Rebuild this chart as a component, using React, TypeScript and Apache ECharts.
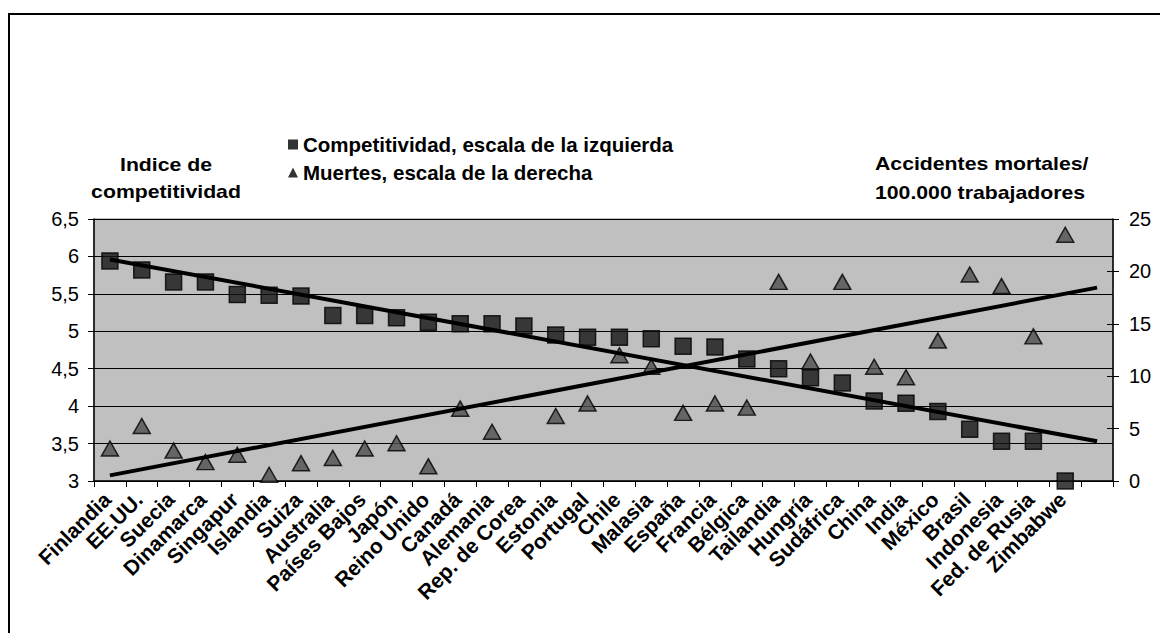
import React, { useEffect, useRef } from "react";
import * as echarts from "echarts";

const categories = [
  "Finlandia", "EE.UU.", "Suecia", "Dinamarca", "Singapur", "Islandia", "Suiza",
  "Australia", "Países Bajos", "Japón", "Reino Unido", "Canadá", "Alemania",
  "Rep. de Corea", "Estonia", "Portugal", "Chile", "Malasia", "España", "Francia",
  "Bélgica", "Tailandia", "Hungría", "Sudáfrica", "China", "India", "México",
  "Brasil", "Indonesia", "Fed. de Rusia", "Zimbabwe",
];

const competitividad = [
  5.94, 5.82, 5.66, 5.66, 5.49, 5.48, 5.47, 5.21, 5.21, 5.18, 5.12, 5.1, 5.1,
  5.07, 4.95, 4.92, 4.92, 4.9, 4.8, 4.79, 4.63, 4.5, 4.38, 4.31, 4.07, 4.04,
  3.93, 3.69, 3.53, 3.53, 3.0,
];

const muertes: (number | null)[] = [
  3.1, 5.25, 2.9, 1.8, 2.5, 0.6, 1.7, 2.2, 3.1, 3.6, 1.4, 6.9, 4.7, null, 6.2,
  7.4, 12.0, 10.9, 6.5, 7.4, 7.0, 19.0, 11.4, 19.0, 10.9, 9.9, 13.4, 19.7, 18.6,
  13.8, 23.5,
];

// trendline end values (first country, one slot past the last)
const trendComp = [5.96, 3.53];
const trendMuertes = [0.54, 18.45];

const leftTicks = { min: 3, max: 6.5, interval: 0.5 };
const rightTicks = { min: 0, max: 25, interval: 5 };

const nameComp = "Competitividad, escala de la izquierda";
const nameMuertes = "Muertes, escala de la derecha";

const FONT = "'Liberation Sans', Arial, sans-serif";

export default function App() {
  const ref = useRef<HTMLDivElement>(null);

  useEffect(() => {
    if (!ref.current) return;
    const chart = echarts.init(ref.current, undefined, { renderer: "svg" });
    const axisCats = [...categories, ""];
    const slots = axisCats.length;
    const toSeries = (arr: (number | null)[]) =>
      axisCats.map((_, i) => (i < arr.length && arr[i] !== null ? arr[i] : "-"));
    const trendSeries = (ends: number[]) =>
      axisCats.map((_, i) => (i === 0 ? ends[0] : i === slots - 1 ? ends[1] : "-"));

    chart.setOption({
      animation: false,
      backgroundColor: "#ffffff",
      textStyle: { fontFamily: FONT },
      grid: {
        left: 86,
        right: 55,
        top: 211,
        bottom: 152,
        show: true,
        backgroundColor: "#c0c0c0",
        borderColor: "#808080",
        borderWidth: 1,
      },
      legend: {
        orient: "vertical",
        left: 275,
        top: 121,
        itemGap: 7,
        itemWidth: 10,
        itemHeight: 10,
        selectedMode: false,
        textStyle: { fontSize: 20.5, fontWeight: "bold", color: "#000", fontFamily: FONT },
        data: [
          { name: nameComp, icon: "rect", itemStyle: { color: "#000", borderWidth: 0 } },
          { name: nameMuertes, icon: "triangle", itemStyle: { color: "#000", borderWidth: 0 } },
        ],
      },
      graphic: [
        {
          type: "rect",
          silent: true,
          shape: { x: 1, y: 6, width: 1200, height: 700 },
          style: { fill: "none", stroke: "#000", lineWidth: 2 },
          z: -10,
        },
        {
          type: "text",
          x: 158,
          y: 170,
          scaleX: 1.18,
          style: {
            text: "Indice de\ncompetitividad",
            font: `bold 18px ${FONT}`,
            fill: "#000",
            align: "center",
            verticalAlign: "middle",
            lineHeight: 27,
          },
        },
        {
          type: "text",
          x: 867,
          y: 170,
          scaleX: 1.18,
          style: {
            text: "Accidentes mortales/\n100.000 trabajadores",
            font: `bold 18px ${FONT}`,
            fill: "#000",
            align: "left",
            verticalAlign: "middle",
            lineHeight: 29,
          },
        },
      ],
      xAxis: {
        type: "category",
        data: axisCats,
        boundaryGap: true,
        axisLine: { lineStyle: { color: "#000", width: 1.5 } },
        axisTick: { show: true, interval: 0, length: 6, lineStyle: { color: "#000" } },
        axisLabel: {
          interval: 0,
          rotate: 45,
          margin: 12,
          padding: [0, 4, 0, 0],
          color: "#000",
          fontSize: 21,
          fontWeight: "bold",
          fontFamily: FONT,
        },
        splitLine: { show: false },
      },
      yAxis: [
        {
          type: "value",
          min: leftTicks.min,
          max: leftTicks.max,
          interval: leftTicks.interval,
          position: "left",
          axisLine: { show: true, lineStyle: { color: "#000", width: 1.5 } },
          axisTick: { show: true, length: 6, lineStyle: { color: "#000" } },
          axisLabel: {
            color: "#000",
            fontSize: 20,
            margin: 15,
            fontFamily: FONT,
            formatter: (v: number) => String(v).replace(".", ","),
          },
          splitLine: { show: true, lineStyle: { color: "#000", width: 1 } },
        },
        {
          type: "value",
          min: rightTicks.min,
          max: rightTicks.max,
          interval: rightTicks.interval,
          position: "right",
          axisLine: { show: true, lineStyle: { color: "#000", width: 1.5 } },
          axisTick: { show: true, length: 6, lineStyle: { color: "#000" } },
          axisLabel: { color: "#000", fontSize: 20, margin: 16, fontFamily: FONT },
          splitLine: { show: false },
        },
        {
          type: "value",
          min: rightTicks.min,
          max: rightTicks.max,
          interval: rightTicks.interval,
          position: "right",
          offset: 0,
          axisLine: { show: false },
          axisTick: { show: true, inside: true, length: 6, lineStyle: { color: "#000" } },
          axisLabel: { show: false },
          splitLine: { show: false },
        },
      ],
      series: [
        {
          name: nameComp,
          type: "scatter",
          yAxisIndex: 0,
          symbol: "rect",
          symbolSize: 16,
          itemStyle: { color: "#141414", borderColor: "#000", borderWidth: 1.5 },
          data: toSeries(competitividad),
        },
        {
          name: nameMuertes,
          type: "scatter",
          yAxisIndex: 1,
          symbol: "triangle",
          symbolSize: [17, 15],
          itemStyle: { color: "#4d4d4d", borderColor: "#000", borderWidth: 1.5 },
          data: toSeries(muertes),
        },
        {
          name: "trend-comp",
          type: "line",
          yAxisIndex: 0,
          symbol: "none",
          connectNulls: true,
          lineStyle: { color: "#000", width: 4 },
          data: trendSeries(trendComp),
        },
        {
          name: "trend-muertes",
          type: "line",
          yAxisIndex: 1,
          symbol: "none",
          connectNulls: true,
          lineStyle: { color: "#000", width: 4 },
          data: trendSeries(trendMuertes),
        },
      ],
    });
    return () => chart.dispose();
  }, []);

  return <div ref={ref} style={{ width: 1160, height: 625 }} />;
}
